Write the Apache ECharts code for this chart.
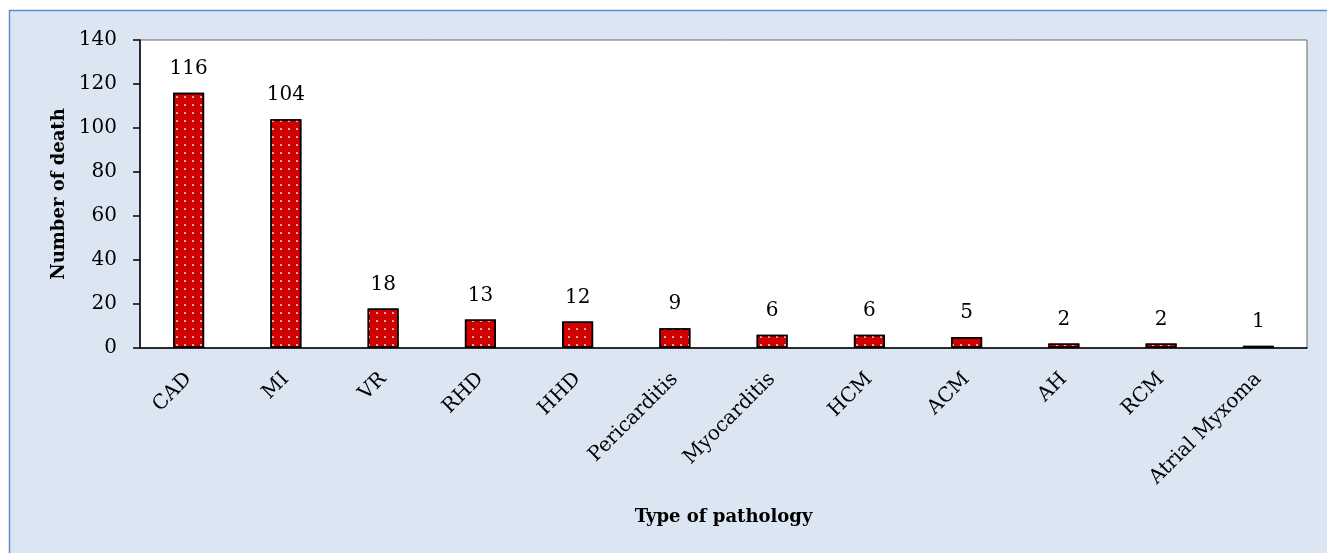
<!DOCTYPE html>
<html>
<head>
<meta charset="utf-8">
<script src="https://cdn.jsdelivr.net/npm/echarts@6/dist/echarts.min.js"></script>
<style>
  html, body { margin: 0; padding: 0; background: #fff; }
  #chart { width: 1327px; height: 553px; }
</style>
</head>
<body>
<div id="chart"></div>
<script>
// 数据
const categories = ['CAD', 'MI', 'VR', 'RHD', 'HHD', 'Pericarditis', 'Myocarditis', 'HCM', 'ACM', 'AH', 'RCM', 'Atrial Myxoma']
const deaths = [116, 104, 18, 13, 12, 9, 6, 6, 5, 2, 2, 1]
const yTicks = [0, 20, 40, 60, 80, 100, 120, 140]

const font = 'DejaVu Serif'

const chart = echarts.init(document.getElementById('chart'))

chart.setOption({
  animation: false,
  graphic: [
    {
      type: 'rect',
      z: -10,
      shape: { x: 9.5, y: 10.5, width: 1400, height: 600 },
      style: { fill: '#dce6f2', stroke: '#5b8bd0', lineWidth: 1.5 }
    }
  ],
  grid: {
    left: 140,
    right: 20,
    top: 40,
    bottom: 205,
    show: true,
    backgroundColor: '#fff',
    borderColor: '#666',
    borderWidth: 1
  },
  xAxis: {
    type: 'category',
    data: categories,
    name: 'Type of pathology',
    nameLocation: 'middle',
    nameGap: 160,
    nameTextStyle: { fontFamily: font, fontWeight: 'bold', fontSize: 18, color: '#000' },
    axisLine: { lineStyle: { color: '#000', width: 1.5 } },
    axisTick: { alignWithLabel: true, length: 6, lineStyle: { color: '#000', width: 1.5 } },
    axisLabel: {
      rotate: 45,
      margin: 28,
      interval: 0,
      fontFamily: font,
      fontSize: 20,
      color: '#000'
    }
  },
  yAxis: {
    type: 'value',
    min: yTicks[0],
    max: yTicks[yTicks.length - 1],
    interval: 20,
    name: 'Number of death',
    nameLocation: 'middle',
    nameRotate: 90,
    nameGap: 72,
    nameTextStyle: { fontFamily: font, fontWeight: 'bold', fontSize: 18, color: '#000' },
    splitLine: { show: false },
    axisLine: { show: true, lineStyle: { color: '#000', width: 1.5 } },
    axisTick: { show: true, length: 7, lineStyle: { color: '#000', width: 1.5 } },
    axisLabel: { margin: 23, fontFamily: font, fontSize: 20, color: '#000' }
  },
  series: [
    {
      type: 'bar',
      data: deaths,
      barWidth: 31,
      itemStyle: {
        color: '#d00000',
        borderColor: '#000',
        borderWidth: 1.5,
        decal: {
          symbol: 'circle',
          symbolSize: 1,
          color: 'rgba(255,255,255,0.9)',
          dashArrayX: [2, 6],
          dashArrayY: [2, 6],
          rotation: 0
        }
      },
      label: {
        show: true,
        position: 'top',
        distance: 14,
        fontFamily: font,
        fontSize: 20,
        color: '#000'
      }
    }
  ]
})
</script>
</body>
</html>
